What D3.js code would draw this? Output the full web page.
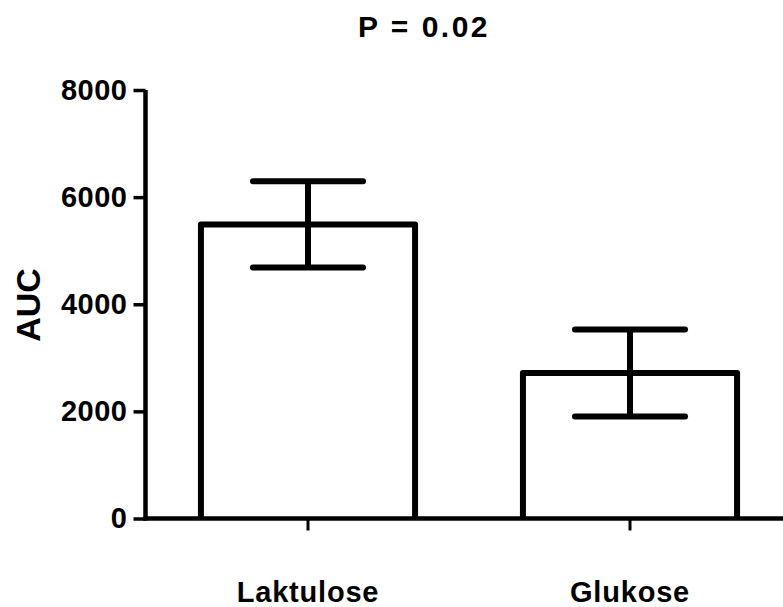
<!DOCTYPE html>
<html>
<head>
<meta charset="utf-8">
<script src="https://cdn.jsdelivr.net/npm/d3@7"></script>
<style>
  html, body { margin: 0; padding: 0; background: #fff; }
  svg { display: block; font-family: "Liberation Sans", Arial, sans-serif; font-weight: bold; }
</style>
</head>
<body>
<svg id="chart" width="783" height="607"></svg>
<script>
// Group labels, means and standard errors
const categories = ["Laktulose", "Glukose"];
const means = [5490, 2716];
const errors = [805, 811];
const yTicks = [0, 2000, 4000, 6000, 8000];
const title = "P = 0.02";
const yLabel = "AUC";

const svg = d3.select("#chart");

const x = d3.scaleBand()
  .domain(categories)
  .range([147, 791])
  .paddingInner(0.335)
  .paddingOuter(0.1675);

const y = d3.scaleLinear()
  .domain([0, 8000])
  .range([518.5, 90]);

const rows = categories.map((c, i) => ({ cat: c, mean: means[i], err: errors[i] }));

// Bars: open rectangles sitting on the baseline
svg.append("g").selectAll("path")
  .data(rows)
  .join("path")
  .attr("d", d => {
    const x0 = x(d.cat), x1 = x(d.cat) + x.bandwidth();
    return `M${x0},${y(0)}V${y(d.mean)}H${x1}V${y(0)}`;
  })
  .attr("fill", "none")
  .attr("stroke", "#000")
  .attr("stroke-width", 6)
  .attr("stroke-linejoin", "round");

// Error bars (mean ± SEM)
const capHalf = x.bandwidth() * 0.257;
const eb = svg.append("g").selectAll("g")
  .data(rows)
  .join("g")
  .attr("stroke", "#000")
  .attr("stroke-width", 6)
  .attr("stroke-linecap", "round");
eb.append("line")
  .attr("x1", d => x(d.cat) + x.bandwidth() / 2)
  .attr("x2", d => x(d.cat) + x.bandwidth() / 2)
  .attr("y1", d => y(d.mean + d.err))
  .attr("y2", d => y(d.mean - d.err))
  .attr("stroke-linecap", "butt");
eb.append("line")
  .attr("x1", d => x(d.cat) + x.bandwidth() / 2 - capHalf)
  .attr("x2", d => x(d.cat) + x.bandwidth() / 2 + capHalf)
  .attr("y1", d => y(d.mean + d.err))
  .attr("y2", d => y(d.mean + d.err));
eb.append("line")
  .attr("x1", d => x(d.cat) + x.bandwidth() / 2 - capHalf)
  .attr("x2", d => x(d.cat) + x.bandwidth() / 2 + capHalf)
  .attr("y1", d => y(d.mean - d.err))
  .attr("y2", d => y(d.mean - d.err));

// Y axis
const yAxis = svg.append("g")
  .attr("transform", "translate(145.5,0)")
  .call(d3.axisLeft(y).tickValues(yTicks).tickSize(12).tickSizeOuter(0).tickPadding(6).tickFormat(d3.format("d")));
yAxis.select(".domain").attr("stroke-width", 4.5).attr("d", `M0,${y(8000)}V${y(0) + 2}`);
yAxis.selectAll(".tick line").attr("stroke-width", 3.5);
yAxis.selectAll(".tick text")
  .attr("font-size", 29)
  .attr("font-weight", "bold")
  .attr("font-family", "'Liberation Sans', Arial, sans-serif")
  .attr("letter-spacing", 0.5)
  .attr("fill", "#000");

// X axis
const xAxis = svg.append("g")
  .attr("transform", `translate(0,${y(0)})`)
  .call(d3.axisBottom(x).tickSize(12).tickSizeOuter(0).tickPadding(51));
xAxis.select(".domain").attr("stroke-width", 4.5).attr("d", `M143.5,0H791`);
xAxis.selectAll(".tick line").attr("stroke-width", 3);
xAxis.selectAll(".tick text")
  .attr("font-size", 29)
  .attr("font-weight", "bold")
  .attr("font-family", "'Liberation Sans', Arial, sans-serif")
  .attr("letter-spacing", 0.8)
  .attr("fill", "#000");

// Title
svg.append("text")
  .attr("x", 424)
  .attr("y", 37)
  .attr("text-anchor", "middle")
  .attr("font-size", 30)
  .attr("letter-spacing", 2.5)
  .text(title);

// Y axis label
svg.append("text")
  .attr("transform", "translate(40,305) rotate(-90)")
  .attr("text-anchor", "middle")
  .attr("font-size", 34)
  .text(yLabel);
</script>
</body>
</html>
